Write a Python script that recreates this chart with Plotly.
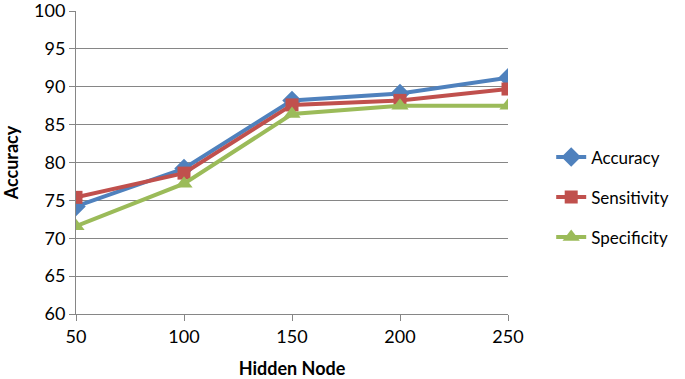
import plotly.graph_objects as go

hidden_nodes = [50, 100, 150, 200, 250]
accuracy = [74.2, 79.2, 88.2, 89.1, 91.2]
sensitivity = [75.4, 78.6, 87.6, 88.2, 89.7]
specificity = [71.6, 77.2, 86.4, 87.5, 87.5]

series = [
    ("Accuracy", accuracy, "#4F81BD", "diamond", 15),
    ("Sensitivity", sensitivity, "#C0504D", "square", 13),
    ("Specificity", specificity, "#9BBB59", "triangle-up", 15),
]

fig = go.Figure()
for name, vals, color, sym, size in series:
    fig.add_trace(go.Scatter(
        x=hidden_nodes, y=vals, name=name, mode="lines+markers",
        line=dict(color=color, width=4),
        marker=dict(symbol=sym, size=size, color=color),
        legendgroup=name,
    ))

font_family = "Lato, Open Sans, Liberation Sans, sans-serif"
fig.update_layout(
    width=685, height=379,
    margin=dict(l=76, r=177, t=11, b=65),
    plot_bgcolor="white", paper_bgcolor="white",
    font=dict(family=font_family, size=17, color="black"),
    showlegend=True,
    legend=dict(x=1.1, y=0.385, xanchor="left", yanchor="middle",
                font=dict(size=17), tracegroupgap=15, traceorder="grouped"),
    xaxis=dict(
        range=[50, 250], tickvals=hidden_nodes, ticks="outside", ticklen=6,
        tickcolor="#868686", showline=True, linecolor="#868686", linewidth=1,
        showgrid=False, zeroline=False, automargin=False,
        ticklabeloverflow="allow",
        title=dict(text="<b>Hidden Node</b>", font=dict(size=18), standoff=20),
        tickfont=dict(size=18),
    ),
    yaxis=dict(
        range=[60, 100], dtick=5, ticks="outside", ticklen=6,
        tickcolor="#868686", showline=True, linecolor="#868686", linewidth=1,
        showgrid=True, gridcolor="#868686", gridwidth=1, zeroline=False,
        automargin=False, ticklabeloverflow="allow",
        title=dict(text="<b>Accuracy</b>", font=dict(size=18), standoff=14),
        tickfont=dict(size=18),
    ),
)
fig.write_html("out.html", config={"displayModeBar": False},
               post_script="document.body.style.margin='0';")
